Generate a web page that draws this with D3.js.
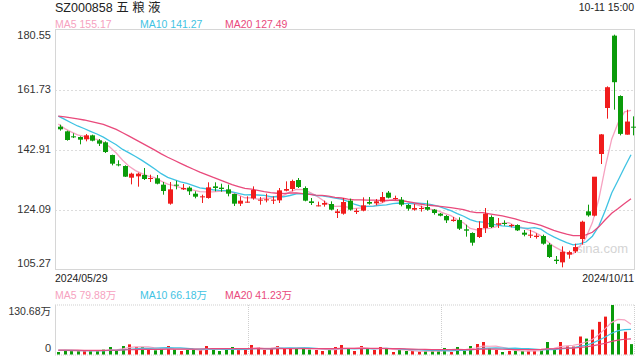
<!DOCTYPE html>
<html><head><meta charset="utf-8">
<script src="https://cdn.jsdelivr.net/npm/d3@7/dist/d3.min.js"></script>
<style>html,body{margin:0;padding:0;background:#fff;}svg{display:block;}</style>
</head><body><svg id="c" width="640" height="360"></svg>
<script>
const dates = [
"2024-05-29","2024-05-30","2024-05-31",
"2024-06-03","2024-06-04","2024-06-05","2024-06-06","2024-06-07","2024-06-11","2024-06-12","2024-06-13","2024-06-14",
"2024-06-17","2024-06-18","2024-06-19","2024-06-20","2024-06-21","2024-06-24","2024-06-25","2024-06-26","2024-06-27","2024-06-28",
"2024-07-01","2024-07-02","2024-07-03","2024-07-04","2024-07-05","2024-07-08","2024-07-09","2024-07-10","2024-07-11","2024-07-12",
"2024-07-15","2024-07-16","2024-07-17","2024-07-18","2024-07-19","2024-07-22","2024-07-23","2024-07-24","2024-07-25","2024-07-26",
"2024-07-29","2024-07-30","2024-07-31",
"2024-08-01","2024-08-02","2024-08-05","2024-08-06","2024-08-07","2024-08-08","2024-08-09","2024-08-12","2024-08-13","2024-08-14",
"2024-08-15","2024-08-16","2024-08-19","2024-08-20","2024-08-21","2024-08-22","2024-08-23","2024-08-26","2024-08-27","2024-08-28",
"2024-08-29","2024-08-30",
"2024-09-02","2024-09-03","2024-09-04","2024-09-05","2024-09-06","2024-09-09","2024-09-10","2024-09-11","2024-09-12","2024-09-13",
"2024-09-18","2024-09-19","2024-09-20","2024-09-23","2024-09-24","2024-09-25","2024-09-26","2024-09-27","2024-09-30",
"2024-10-08","2024-10-09","2024-10-10","2024-10-11"];

const open = [
150.07,148.61,147.04,146.83,146.10,147.35,145.78,145.16,141.18,138.25,
137.73,134.07,134.49,134.91,133.66,133.86,131.88,125.92,131.88,130.41,
130.94,129.05,127.90,127.70,131.35,130.94,130.41,128.95,125.92,126.34,
127.59,126.86,126.96,126.86,126.96,129.99,130.52,133.34,130.83,126.65,
125.08,125.60,125.81,122.99,122.78,126.86,123.30,123.72,126.44,126.02,
126.55,129.37,127.38,127.17,125.50,124.04,124.25,124.87,124.04,122.78,
122.05,120.48,120.79,117.87,116.72,115.46,118.28,121.73,119.33,119.85,
118.91,119.23,116.82,115.88,115.46,115.77,113.06,108.35,107.51,109.92,
110.97,114.83,123.51,122.15,141.50,155.93,178.62,159.69,147.56,150.07];

const close = [
149.24,145.89,146.72,145.99,147.35,145.68,144.74,142.12,138.46,137.94,
134.39,135.33,135.33,133.66,133.97,132.19,129.89,130.41,131.56,130.83,
129.79,128.11,128.22,131.04,130.83,130.52,129.05,125.92,126.86,126.55,
130.20,127.17,127.28,127.17,130.10,130.52,133.03,131.14,126.86,126.13,
125.39,126.13,124.04,123.51,126.44,124.04,123.72,125.39,125.92,126.65,
128.01,127.80,127.70,125.60,124.35,124.56,124.56,124.04,122.99,122.15,
120.69,120.90,118.07,117.45,113.68,118.28,122.78,118.60,119.75,119.54,
119.23,117.55,116.19,116.19,115.88,113.37,109.19,107.93,110.84,110.73,
112.31,120.26,122.25,134.38,147.65,162.45,164.02,147.81,151.68,149.89];

const high = [
150.70,148.82,147.98,147.04,147.77,147.56,146.20,145.47,141.29,139.51,
137.94,135.64,135.64,137.11,135.01,134.91,132.71,132.71,133.13,132.09,
131.35,129.79,128.74,132.61,132.61,132.19,131.88,129.05,128.22,128.22,
131.35,128.01,129.05,128.22,130.83,132.92,133.45,133.97,131.35,127.70,
126.55,126.86,126.65,124.25,127.70,127.49,124.35,127.90,128.01,127.38,
129.58,129.89,128.43,128.01,125.81,125.81,125.29,126.96,124.25,122.99,
122.36,121.73,121.63,119.33,116.93,120.38,124.56,122.26,121.42,120.69,
119.54,119.44,117.66,117.76,116.61,116.19,113.58,109.50,112.53,111.17,
113.37,120.58,125.60,134.28,147.77,162.72,178.93,159.90,155.40,153.31];

const low = [
148.82,145.68,146.50,144.53,145.47,145.47,144.00,141.81,137.94,137.63,
134.28,131.98,131.25,133.34,132.71,131.98,128.74,125.60,130.41,130.20,
128.64,127.59,126.13,127.49,129.79,129.68,128.22,125.18,125.18,126.23,
127.17,125.60,126.34,125.81,126.13,129.79,129.79,130.83,126.65,125.50,
125.08,124.98,123.83,121.42,122.47,123.72,122.68,123.51,125.60,125.39,
126.23,127.59,127.17,125.08,123.72,123.72,123.41,123.72,122.47,121.94,
119.85,120.27,117.66,115.57,112.74,115.15,116.72,118.28,118.28,119.02,
118.49,117.34,115.67,115.15,114.94,113.06,108.87,107.00,105.95,108.66,
110.44,113.06,121.84,121.94,138.36,152.58,155.40,147.35,147.56,147.35];

// volume in 万手
const volume = [
6.6,11.9,9.2,9.2,9.2,9.2,9.2,12.8,19.8,11.0,
22.4,26.8,19.8,19.8,11.9,11.0,17.2,22.4,12.8,9.2,
11.9,12.8,11.9,22.4,11.9,9.2,11.9,19.8,12.8,12.8,
25.1,19.8,11.9,15.3,22.4,16.3,16.3,16.3,19.0,12.8,
11.9,9.2,11.9,19.8,25.1,14.5,9.2,22.4,14.5,11.9,
19.8,14.5,6.6,11.9,9.2,9.2,7.5,9.2,9.2,9.2,
17.2,6.6,19.8,9.2,22.4,27.7,33.0,16.3,11.9,6.6,
9.5,9.5,9.5,9.5,9.5,14.0,33.0,14.0,33.0,21.4,
21.0,47.5,42.0,65.7,86.2,100.0,130.68,81.2,60.1,27.4];

// sessions before the visible window (only feed the moving averages)
const priorCloses = [151.5,152.3,153.0,153.8,154.2,153.6,152.9,153.5,154.0,155.2,
156.4,157.2,156.1,155.3,154.5,153.1,151.8,150.6,149.76];
const priorVolumes = [10.5,12.3,9.8,14.1,11.2,13.5,10.9,12.7,9.6,11.8,13.2,10.4,12.9,11.5,9.9,12.1,13.6,10.8,11.4];

const priceTicks = [180.55,161.73,142.91,124.09,105.27];
const volMax = 130.68;
const maPeriods = [5,10,20];
const maColors = ["#f6a2c0","#3fc3e3","#e94a7c"];
const title = "SZ000858 五 粮 液";
const timeLabel = "10-11 15:00";

function movingAvg(series, prior, n){
  const all = prior.concat(series);
  return series.map((_, i) => d3.mean(all.slice(prior.length + i - n + 1, prior.length + i + 1)));
}

const svg = d3.select("#c");
const FONT = "Arial, 'Liberation Sans', 'Noto Sans CJK SC', sans-serif";
const RED = "#f01c1c", GREEN = "#0a9b0a";
const L = 55, R = 634, T = 29.5, B = 269.5;
const VT = 305, VB = 354.5;

const x = d3.scalePoint().domain(dates).range([60.3, 633]);
const y = d3.scaleLinear().domain([105.27, 180.55]).range([B, T]);
const yv = d3.scaleLinear().domain([0, volMax]).range([VB, VT]);

// header
svg.append("text").attr("x", L).attr("y", 12).attr("font-family", FONT).attr("font-size", 12.5)
  .attr("fill", "#222").text(title);
svg.append("text").attr("x", R).attr("y", 11).attr("text-anchor", "end").attr("font-family", FONT)
  .attr("font-size", 10.5).attr("fill", "#222").text(timeLabel);

const closeMA = maPeriods.map(n => movingAvg(close, priorCloses, n));
const volMA = maPeriods.map(n => movingAvg(volume, priorVolumes, n));
const fmt = v => (Math.round(v * 100 + 1e-6) / 100).toFixed(2);
const legX = [L, 140, 225];
maPeriods.forEach((n, k) => {
  svg.append("text").attr("x", legX[k]).attr("y", 27.5).attr("font-family", FONT).attr("font-size", 10.5)
    .attr("fill", maColors[k]).text("MA" + n + " " + fmt(closeMA[k][closeMA[k].length - 1]));
  svg.append("text").attr("x", legX[k]).attr("y", 298.5).attr("font-family", FONT).attr("font-size", 10.5)
    .attr("fill", maColors[k]).text("MA" + n + " " + fmt(volMA[k][volMA[k].length - 1]) + "万");
});

// price grid
const g = svg.append("g");
priceTicks.slice(1, -1).forEach(t => {
  g.append("line").attr("x1", L).attr("x2", R).attr("y1", Math.round(y(t)) + 0.5).attr("y2", Math.round(y(t)) + 0.5)
    .attr("stroke", "#dcdcdc").attr("stroke-dasharray", "2,2");
});
g.append("rect").attr("x", L + 0.5).attr("y", T).attr("width", R - L).attr("height", B - T)
  .attr("fill", "none").attr("stroke", "#d6d6d6");

// price labels
priceTicks.forEach((t, i) => {
  let yy = y(t) + 3.8;
  if (i === 0) yy = T + 9;
  if (i === priceTicks.length - 1) yy = B - 2.5;
  svg.append("text").attr("x", 51).attr("y", yy).attr("text-anchor", "end").attr("font-family", FONT)
    .attr("font-size", 11).attr("fill", "#333").text(t.toFixed(2));
});

// date labels
svg.append("text").attr("x", L).attr("y", 282).attr("font-family", FONT).attr("font-size", 10.5)
  .attr("fill", "#222").text(dates[0].replace(/-/g, "/"));
svg.append("text").attr("x", R).attr("y", 282).attr("text-anchor", "end").attr("font-family", FONT)
  .attr("font-size", 10.5).attr("fill", "#222").text(dates[dates.length - 1].replace(/-/g, "/"));

// watermark
svg.append("text").attr("x", 602).attr("y", 253).attr("text-anchor", "middle").attr("font-family", FONT)
  .attr("font-size", 13).attr("fill", "#d4d4d4").text("sina.com");

// MA lines (price)
maPeriods.forEach((n, k) => {
  svg.append("path").datum(closeMA[k])
    .attr("d", d3.line().x((d, i) => x(dates[i]) - 2).y(d => y(d)))
    .attr("fill", "none").attr("stroke", maColors[k]).attr("stroke-width", 1.3);
});

// candles
const cg = svg.append("g");
dates.forEach((d, i) => {
  const cx = Math.round(x(d)) + 0.5;
  const up = close[i] >= open[i];
  const col = up ? RED : GREEN;
  cg.append("line").attr("x1", cx).attr("x2", cx).attr("y1", y(high[i])).attr("y2", y(low[i]))
    .attr("stroke", col).attr("stroke-width", 1);
  const top = y(Math.max(open[i], close[i])), bot = y(Math.min(open[i], close[i]));
  cg.append("rect").attr("x", cx - 2.5).attr("y", top).attr("width", 5).attr("height", Math.max(1, bot - top))
    .attr("fill", col);
});

// volume grid
const vg = svg.append("g");
vg.append("line").attr("x1", L).attr("x2", R).attr("y1", VT).attr("y2", VT).attr("stroke", "#cfcfcf").attr("stroke-dasharray", "1,1");
vg.append("line").attr("x1", L).attr("x2", R).attr("y1", VB + 0.5).attr("y2", VB + 0.5).attr("stroke", "#cfcfcf").attr("stroke-dasharray", "1,1");
vg.append("line").attr("x1", R + 0.5).attr("x2", R + 0.5).attr("y1", VT).attr("y2", VB).attr("stroke", "#cfcfcf").attr("stroke-dasharray", "1,1");
vg.append("line").attr("x1", L + 0.5).attr("x2", L + 0.5).attr("y1", VT).attr("y2", VB).attr("stroke", "#d6d6d6");
[1, 2].forEach(k => {
  const xx = Math.round(L + (R - L) * k / 3) + 0.5;
  vg.append("line").attr("x1", xx).attr("x2", xx).attr("y1", VT).attr("y2", VB).attr("stroke", "#cfcfcf").attr("stroke-dasharray", "1,1");
});
svg.append("text").attr("x", 51).attr("y", 315).attr("text-anchor", "end").attr("font-family", FONT)
  .attr("font-size", 10.5).attr("fill", "#333").text(volMax.toFixed(2) + "万");
svg.append("text").attr("x", 51).attr("y", 352).attr("text-anchor", "end").attr("font-family", FONT)
  .attr("font-size", 11).attr("fill", "#333").text("0");

// volume bars
dates.forEach((d, i) => {
  const cx = Math.round(x(d));
  const up = close[i] >= open[i];
  svg.append("rect").attr("x", cx - 3).attr("y", yv(volume[i])).attr("width", 3)
    .attr("height", VB - yv(volume[i])).attr("fill", up ? RED : GREEN);
});
// volume MA lines
maPeriods.forEach((n, k) => {
  svg.append("path").datum(volMA[k])
    .attr("d", d3.line().x((d, i) => x(dates[i]) - 2).y(d => yv(d)))
    .attr("fill", "none").attr("stroke", maColors[k]).attr("stroke-width", 1.2);
});
</script></body></html>
